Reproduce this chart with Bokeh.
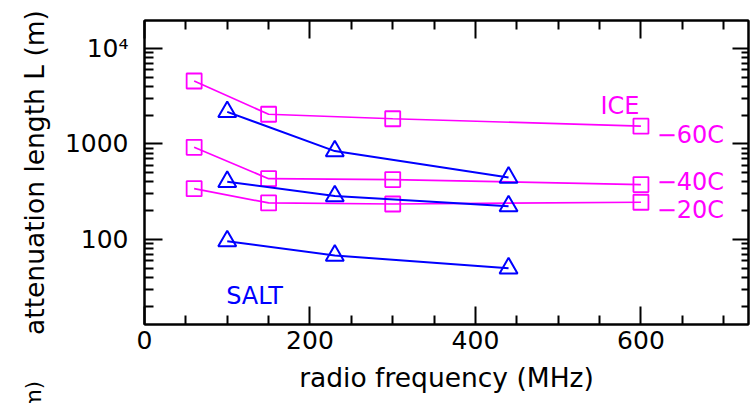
import math
from bokeh.plotting import figure
from bokeh.models import FixedTicker, LinearAxis, LogAxis, Label, CustomJSTickFormatter
from bokeh.core.properties import value
from bokeh.embed import file_html
from bokeh.resources import INLINE

# ---- data ----
ice_freq = [60, 150, 300, 600]
ice_m60 = [4540, 2040, 1830, 1530]
ice_m40 = [920, 432, 423, 375]
ice_m20 = [340, 241, 235, 245]

salt_freq = [100, 230, 440]
salt_a = [2160, 840, 445]
salt_b = [402, 284, 223]
salt_c = [96, 68, 50]

x_ticks = [0, 200, 400, 600]
x_minor = [50, 100, 150, 250, 300, 350, 450, 500, 550, 650, 700]
y_ticks = [100, 1000, 10000]
y_minor = [m * d for d in (10, 100, 1000) for m in range(2, 10)]
y_tick_labels = {100: "100", 1000: "1000", 10000: "10\u2074"}

FONT = "DejaVu Sans"
MAG = "#ff00ff"
BLUE = "#0000ff"

p = figure(width=753, height=403, x_range=(0, 730), y_range=(12.9, 19500),
           y_axis_type="log", output_backend="svg", toolbar_location=None,
           min_border_left=144, min_border_right=5, min_border_top=20,
           min_border_bottom=79)
p.xgrid.visible = False
p.ygrid.visible = False
p.outline_line_color = "black"
p.outline_line_width = 2
p.background_fill_color = "white"
p.border_fill_color = "white"

xt = FixedTicker(ticks=x_ticks, minor_ticks=x_minor)
yt = FixedTicker(ticks=y_ticks, minor_ticks=y_minor)


def style(ax, major=18, minor=9):
    ax.major_tick_in = major
    ax.major_tick_out = 0
    ax.minor_tick_in = minor
    ax.minor_tick_out = 0
    ax.major_tick_line_width = 2
    ax.minor_tick_line_width = 2
    ax.axis_line_width = 2
    ax.major_tick_line_color = "black"
    ax.minor_tick_line_color = "black"
    ax.axis_line_color = "black"
    ax.major_label_text_font = FONT
    ax.major_label_text_color = "black"
    ax.axis_label_text_font = FONT
    ax.axis_label_text_font_style = "normal"
    ax.axis_label_text_color = "black"


xa = p.xaxis[0]
xa.ticker = xt
style(xa)
xa.major_label_text_font_size = "25px"
xa.major_label_standoff = 6
xa.axis_label = "radio frequency (MHz)"
xa.axis_label_text_font_size = "26.5px"
xa.axis_label_standoff = 10

ya = p.yaxis[0]
ya.ticker = yt
style(ya)
ya.major_label_overrides = y_tick_labels
ya.major_label_text_font_size = "25px"
ya.major_label_standoff = 16

blank = CustomJSTickFormatter(code="return ''")
top = LinearAxis(ticker=xt, formatter=blank, major_label_standoff=0)
style(top)
p.add_layout(top, "above")
right = LogAxis(ticker=yt, formatter=blank, major_label_standoff=0)
style(right, 16, 7)
p.add_layout(right, "right")

# ---- series ----
for ys in (ice_m60, ice_m40, ice_m20):
    p.line(ice_freq, ys, line_color=MAG, line_width=1.7)
    p.scatter(ice_freq, ys, marker="square", size=15, fill_color=None,
              line_color=MAG, line_width=1.8)
for ys in (salt_a, salt_b, salt_c):
    p.line(salt_freq, ys, line_color=BLUE, line_width=2)
    p.scatter(salt_freq, ys, marker="triangle", size=18, fill_color=None,
              line_color=BLUE, line_width=2)

# ---- annotations ----
txt = dict(text_font=value(FONT), text_font_size="24px", text_baseline="alphabetic",
           text_align="left")
p.text(x=[551], y=[2460], text=["ICE"], text_color=MAG, **txt)
p.text(x=[619, 619, 619], y=[1224, 396, 201],
       text=["\u221260C", "\u221240C", "\u221220C"], text_color=MAG, **txt)
p.text(x=[98.7], y=[25.4], text=["SALT"], text_color=BLUE, **txt)

# y-axis title, and the end of the same title of the panel below (cut by the
# bottom edge of the picture); both live in the left side panel so they are
# not clipped to the frame
lab = dict(angle=math.pi / 2, text_baseline="alphabetic", text_font=FONT,
           text_color="black")
p.add_layout(Label(x=-133, y=501.5, text="attenuation length L (m)",
                   text_align="center", text_font_size="26.5px", **lab), "left")
p.add_layout(Label(x=-133, y=3.3, text="(m)", text_align="right",
                   text_font_size="21px", **lab), "left")

open("out.html", "w").write(file_html(p, INLINE))
